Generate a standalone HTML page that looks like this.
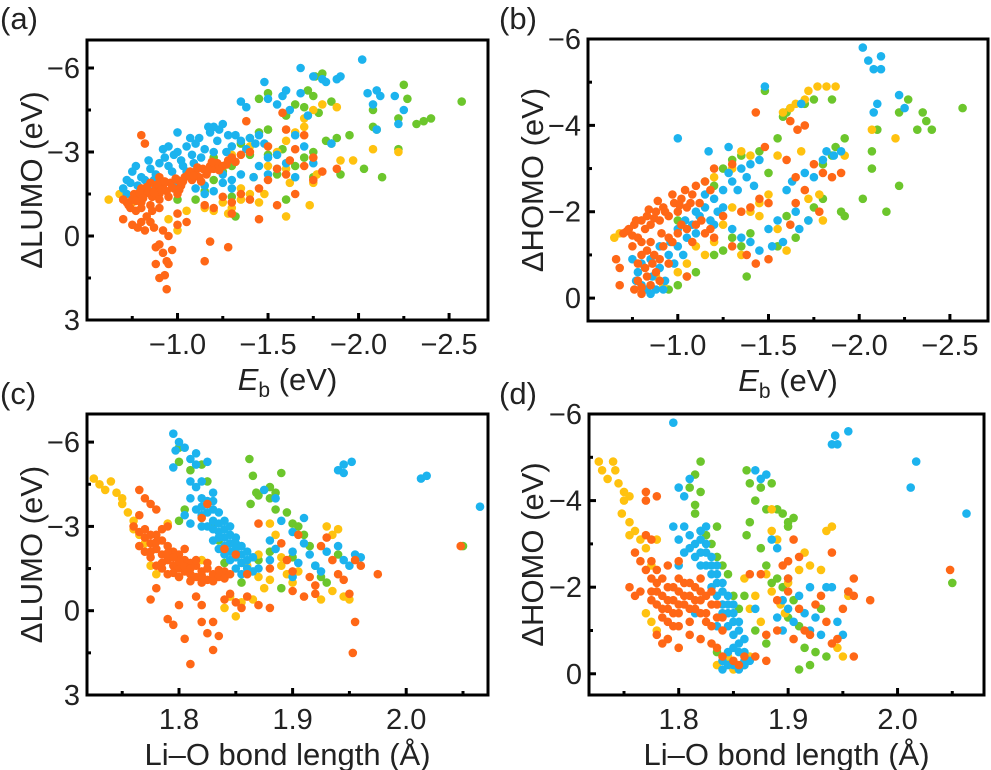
<!DOCTYPE html>
<html><head><meta charset="utf-8">
<style>
html,body{margin:0;padding:0;background:#fff;}
svg{display:block;font-family:"Liberation Sans",Arial,sans-serif;}
</style></head>
<body>
<svg id="fig" width="991" height="770" viewBox="0 0 991 770"></svg>
<script>
// ---------- data (x, y) per panel per series ----------
const aOrange=[[-0.72,-1.2],[-0.75,-1.3],[-0.78,-1.4],[-0.8,-1.2],[-0.82,-1.5],[-0.84,-1.6],[-0.86,-1.4],[-0.88,-1.7],[-0.9,-1.5],[-0.92,-1.8],[-0.94,-1.6],[-0.96,-1.9],[-0.98,-1.7],[-1.0,-2.0],[-1.02,-1.8],[-1.04,-2.1],[-1.06,-2.2],[-1.08,-2.0],[-1.1,-2.3],[-1.12,-2.1],[-1.14,-2.4],[-1.16,-2.2],[-1.18,-2.5],[-1.2,-2.4],[-1.22,-2.6],[-1.25,-2.5],[-1.28,-2.7],[-1.3,-2.8],[-1.35,-2.9],[-1.4,-3.0],[-0.8,-1.0],[-0.85,-1.1],[-0.9,-1.3],[-0.95,-1.4],[-1.0,-1.5],[-0.85,-1.9],[-0.9,-2.1],[-0.8,-1.7],[-0.76,-1.5],[-0.7,-1.3],[-0.7,-0.6],[-0.75,-0.4],[-0.78,-0.3],[-0.82,-0.2],[-0.85,-0.5],[-0.88,0.4],[-0.9,0.3],[-0.92,0.6],[-0.94,0.9],[-0.95,1.0],[-0.97,0.5],[-0.88,1.0],[-0.9,1.5],[-0.93,1.4],[-0.94,1.9],[-0.95,0.0],[-1.0,-0.4],[-1.05,-0.5],[-1.0,-0.8],[-0.8,-3.6],[-0.82,-3.3],[-1.15,0.9],[-1.18,0.2],[-1.28,0.4],[-1.2,-1.0],[-1.3,-1.2],[-1.35,-1.5],[-1.4,-1.3],[-1.45,-1.7],[-1.5,-2.0],[-1.55,-2.4],[-1.6,-2.2],[-1.62,-2.7],[-1.7,-2.5],[-1.75,-2.8],[-1.8,-2.3],[-1.88,-2.4],[-1.65,-3.1],[-1.6,-3.8],[-1.58,-4.4],[-1.7,-3.6],[-1.65,-1.5],[-1.55,-1.1],[-1.45,-0.6],[-1.3,-0.8],[-1.15,-1.1],[-1.5,-3.2],[-1.38,-4.1],[-1.25,-1.4],[-1.75,-2.0],
[-0.73,-1.1],[-0.77,-1.25],[-0.79,-1.55],[-0.81,-1.35],[-0.83,-1.75],[-0.87,-1.55],[-0.89,-1.85],[-0.91,-1.65],[-0.93,-1.95],[-0.97,-1.75],[-0.99,-2.05],[-1.01,-1.65],[-1.03,-1.95],[-1.07,-2.3],[-1.09,-2.15],[-1.11,-2.45],[-1.13,-1.95],[-1.17,-2.35],[-1.19,-2.65],[-1.23,-2.35],[-1.27,-2.55],[-1.32,-2.65],[-0.86,-0.9],[-0.83,-0.7],[-0.87,-0.3],[-0.8,-0.5],[-0.92,-0.2],[-0.77,-0.9],[-0.74,-1.0],[-0.9,-1.0]];
const aBlue=[[-0.7,-1.7],[-0.72,-2.0],[-0.75,-2.3],[-0.78,-1.8],[-0.8,-2.1],[-0.85,-2.4],[-0.88,-2.2],[-0.9,-2.6],[-0.95,-2.5],[-0.98,-2.9],[-1.0,-3.0],[-1.02,-2.7],[-1.05,-3.2],[-1.08,-2.9],[-1.1,-3.3],[-1.12,-3.5],[-1.15,-3.1],[-1.18,-3.7],[-1.2,-3.9],[-1.22,-3.4],[-1.25,-4.0],[-1.28,-3.6],[-1.3,-3.2],[-1.35,-3.4],[-1.4,-3.5],[-1.45,-3.6],[-1.48,-3.3],[-1.0,-3.7],[-0.92,-3.1],[-1.05,-2.3],[-1.1,-1.7],[-1.15,-1.5],[-1.2,-1.6],[-1.25,-1.9],[-1.3,-1.7],[-1.35,-2.2],[-1.42,-2.1],[-1.45,-2.5],[-1.5,-2.8],[-1.55,-2.4],[-1.6,-2.6],[-1.65,-2.1],[-1.7,-3.2],[-1.75,-2.6],[-1.35,-4.8],[-1.38,-4.6],[-1.48,-5.5],[-1.5,-4.9],[-1.55,-4.7],[-1.58,-5.0],[-1.6,-5.2],[-1.62,-4.5],[-1.68,-5.1],[-1.72,-4.3],[-1.68,-6.0],[-1.75,-5.7],[-1.8,-5.6],[-1.82,-5.5],[-1.88,-5.6],[-1.9,-5.7],[-2.02,-6.3],[-2.05,-5.1],[-2.08,-4.7],[-2.1,-5.2],[-2.12,-5.0],[-2.1,-3.8],[-2.22,-4.0],[-2.25,-4.5],[-2.2,-5.0],[-1.85,-3.3],[-1.65,-3.6],[-0.85,-1.6],[-1.0,-1.9],
[-0.72,-1.5],[-0.74,-1.9],[-0.77,-2.5],[-0.82,-2.0],[-0.84,-2.7],[-0.87,-2.0],[-0.93,-2.8],[-0.97,-2.3],[-1.03,-2.5],[-1.07,-3.5],[-1.09,-2.6],[-1.13,-2.8],[-1.17,-3.9],[-1.2,-3.0],[-1.23,-3.8],[-1.27,-3.0],[-1.32,-3.6],[-1.38,-3.1],[-1.43,-3.3],[-1.25,-2.2],[-1.3,-2.0],[-1.15,-1.8],[-1.5,-2.2],[-1.55,-2.9],[-0.95,-3.2]];
const aGreen=[[-1.1,-1.3],[-1.15,-1.6],[-1.2,-2.0],[-1.25,-2.3],[-1.3,-2.5],[-1.35,-3.3],[-1.4,-3.5],[-1.45,-3.7],[-1.5,-3.8],[-1.5,-5.1],[-1.45,-4.9],[-1.58,-3.1],[-1.6,-4.3],[-1.65,-4.7],[-1.7,-4.6],[-1.72,-5.2],[-1.75,-5.0],[-1.8,-5.8],[-1.76,-5.7],[-1.85,-4.8],[-1.78,-4.4],[-1.82,-3.4],[-1.85,-3.3],[-1.88,-3.5],[-1.95,-3.6],[-1.9,-2.2],[-1.75,-3.0],[-1.7,-2.8],[-1.75,-2.1],[-1.65,-2.5],[-1.6,-1.3],[-1.55,-2.2],[-1.32,-0.7],[-2.08,-4.5],[-2.08,-3.9],[-2.1,-3.8],[-2.03,-2.4],[-2.13,-2.1],[-2.22,-3.1],[-2.25,-5.4],[-2.27,-4.9],[-2.22,-4.2],[-2.32,-4.0],[-2.36,-4.1],[-2.4,-4.2],[-2.57,-4.8],[-1.0,-1.3],[-1.2,-2.8],[-1.5,-2.9],[-1.3,-1.4],[-1.4,-2.9]];
const aYellow=[[-0.62,-1.3],[-0.68,-1.5],[-0.75,-1.2],[-0.85,-0.5],[-0.95,-0.6],[-1.05,-0.9],[-1.15,-1.0],[-1.2,-0.9],[-1.25,-1.2],[-1.3,-1.0],[-1.35,-1.3],[-1.4,-1.5],[-1.42,-2.1],[-1.5,-2.5],[-1.55,-3.0],[-1.6,-3.4],[-1.65,-3.7],[-1.7,-4.2],[-1.75,-4.5],[-1.8,-4.7],[-1.88,-4.6],[-1.7,-3.9],[-1.62,-1.9],[-1.75,-1.9],[-1.77,-2.2],[-1.73,-1.1],[-1.6,-0.7],[-1.9,-2.7],[-1.97,-2.7],[-2.08,-3.1],[-2.22,-3.0],[-1.48,-1.5],[-1.3,-2.9],[-1.4,-3.2],[-1.35,-1.7],[-1.0,-0.2],[-1.6,-2.4],[-1.28,-0.8],[-1.45,-1.2]];

const bOrange=[[-0.7,-1.5],[-0.73,-1.6],[-0.76,-1.7],[-0.78,-1.4],[-0.8,-1.8],[-0.83,-1.9],[-0.85,-1.7],[-0.88,-2.0],[-0.9,-1.8],[-0.92,-2.1],[-0.95,-1.9],[-0.98,-2.2],[-1.0,-2.0],[-1.02,-2.3],[-1.05,-2.1],[-1.08,-2.4],[-1.1,-2.6],[-1.12,-2.2],[-1.15,-2.7],[-1.18,-2.5],[-0.75,-1.2],[-0.8,-1.0],[-0.82,-0.7],[-0.78,-0.4],[-0.76,-0.2],[-0.8,-0.1],[-0.85,-0.3],[-0.88,-0.6],[-0.9,-0.9],[-0.92,-1.2],[-0.95,-1.4],[-1.0,-1.5],[-1.05,-1.6],[-1.08,-1.3],[-1.1,-1.7],[-1.15,-1.5],[-0.68,-0.7],[-0.66,-0.9],[-0.68,-0.3],[-0.85,-1.3],[-0.9,-0.4],[-0.95,-0.8],[-1.2,-1.4],[-1.25,-1.9],[-1.3,-1.2],[-1.35,-2.0],[-1.4,-2.1],[-1.45,-2.3],[-1.5,-2.2],[-1.48,-3.5],[-1.43,-4.3],[-1.62,-4.1],[-1.66,-3.9],[-1.7,-4.0],[-1.6,-3.2],[-1.65,-2.8],[-1.7,-2.5],[-1.75,-3.1],[-1.8,-2.9],[-1.85,-2.8],[-1.9,-2.9],[-1.78,-2.0],[-1.65,-2.2],[-1.5,-0.9],[-1.43,-0.8],[-1.05,-0.5],[-1.2,-3.0],[-1.3,-3.1],[-1.62,-1.7],[-1.38,-1.0],
[-0.72,-1.55],[-0.75,-1.45],[-0.77,-1.8],[-0.82,-1.6],[-0.84,-2.05],[-0.87,-1.85],[-0.89,-2.25],[-0.93,-2.0],[-0.97,-2.4],[-1.01,-2.15],[-1.04,-2.5],[-1.07,-2.2],[-0.8,-1.3],[-0.83,-1.1],[-0.87,-1.0],[-0.91,-1.5],[-0.97,-1.3],[-1.02,-1.7],[-0.78,-0.8],[-0.86,-0.8],[-0.83,-0.5],[-0.8,-0.25],[-1.13,-1.8],[-1.18,-1.6]];
const bBlue=[[-0.75,-0.9],[-0.78,-0.6],[-0.8,-0.3],[-0.83,-0.2],[-0.86,-0.5],[-0.88,-0.2],[-0.9,-0.7],[-0.93,-0.4],[-0.95,-1.0],[-0.98,-0.8],[-1.0,-1.2],[-1.03,-1.0],[-1.05,-1.4],[-1.08,-1.7],[-1.1,-1.5],[-1.12,-1.9],[-1.15,-2.1],[-1.18,-1.8],[-1.2,-2.3],[-1.22,-2.0],[-1.25,-2.5],[-1.3,-2.7],[-1.33,-2.5],[-1.35,-3.0],[-1.4,-3.1],[-1.45,-3.2],[-1.3,-1.6],[-1.35,-1.4],[-1.4,-1.3],[-1.45,-1.1],[-1.5,-1.6],[-1.52,-1.2],[-1.55,-1.8],[-1.6,-2.5],[-1.63,-2.7],[-1.67,-1.6],[-1.7,-2.9],[-1.72,-1.8],[-1.75,-2.8],[-1.8,-3.2],[-1.82,-3.4],[-1.86,-3.3],[-1.9,-3.4],[-1.0,-3.7],[-1.17,-3.4],[-1.28,-3.5],[-1.48,-4.9],[-1.68,-4.5],[-2.02,-5.8],[-2.05,-5.5],[-2.08,-5.3],[-2.12,-5.6],[-2.12,-5.3],[-2.1,-4.5],[-2.08,-4.3],[-2.22,-4.7],[-2.25,-4.4],[-1.58,-1.3],[-1.42,-2.6],[-1.65,-2.0],
[-0.77,-0.4],[-0.8,-0.8],[-0.85,-0.9],[-0.9,-1.2],[-0.96,-1.3],[-1.0,-1.6],[-1.04,-1.8],[-1.1,-2.0],[-1.15,-2.4],[-1.2,-1.7],[-1.25,-2.1],[-1.28,-2.9],[-1.38,-2.8],[-0.85,-0.1],[-0.92,-0.2]];
const bGreen=[[-0.95,-0.2],[-1.0,-0.3],[-1.05,-0.5],[-1.1,-0.6],[-1.2,-1.0],[-1.25,-1.1],[-1.3,-1.4],[-1.35,-1.2],[-1.38,-0.5],[-1.4,-1.5],[-1.0,-1.8],[-1.15,-2.7],[-1.2,-2.6],[-1.25,-3.0],[-1.3,-3.2],[-1.35,-3.3],[-1.45,-3.4],[-1.48,-4.8],[-1.55,-3.7],[-1.58,-4.2],[-1.6,-4.3],[-1.7,-4.5],[-1.75,-4.6],[-1.85,-4.6],[-1.8,-3.1],[-1.85,-3.3],[-1.87,-3.5],[-1.92,-3.7],[-1.72,-1.8],[-1.75,-2.1],[-1.8,-2.3],[-1.65,-1.4],[-1.55,-1.2],[-1.6,-1.9],[-1.9,-2.0],[-1.92,-1.9],[-2.02,-2.3],[-2.07,-3.0],[-2.07,-3.4],[-2.1,-3.9],[-2.15,-2.0],[-2.22,-2.6],[-2.22,-4.3],[-2.27,-4.6],[-2.32,-3.9],[-2.35,-4.3],[-2.37,-4.1],[-2.4,-3.9],[-2.57,-4.4],[-1.5,-2.9]];
const bYellow=[[-0.65,-1.4],[-0.68,-1.5],[-0.88,-0.5],[-0.92,-0.3],[-1.0,-0.6],[-1.05,-0.8],[-1.1,-1.2],[-1.15,-1.0],[-1.2,-1.3],[-1.25,-1.7],[-1.3,-2.1],[-1.35,-1.0],[-1.4,-2.0],[-1.45,-2.2],[-1.5,-2.4],[-1.55,-3.3],[-1.4,-3.3],[-1.35,-3.4],[-1.3,-3.0],[-1.2,-2.8],[-1.58,-4.3],[-1.62,-4.4],[-1.65,-4.5],[-1.7,-4.6],[-1.72,-4.8],[-1.77,-4.9],[-1.82,-4.9],[-1.87,-4.9],[-1.78,-2.4],[-1.72,-2.3],[-1.8,-1.8],[-1.6,-1.1],[-1.68,-3.4],[-1.92,-3.3],[-2.07,-3.9],[-2.2,-3.7],[-1.55,-1.6],[-1.45,-1.9]];

const cOrange=[[1.76,-3.0],[1.765,-2.8],[1.77,-2.6],[1.775,-2.4],[1.78,-2.2],[1.78,-2.7],[1.785,-2.0],[1.79,-1.8],[1.79,-2.3],[1.795,-1.6],[1.8,-1.5],[1.8,-2.0],[1.805,-1.4],[1.81,-1.3],[1.81,-1.7],[1.815,-1.2],[1.82,-1.4],[1.825,-1.1],[1.83,-1.3],[1.835,-1.2],[1.84,-1.4],[1.77,-2.1],[1.78,-1.6],[1.785,-2.5],[1.795,-2.1],[1.805,-1.8],[1.815,-1.6],[1.82,-1.0],[1.775,-1.9],[1.765,-3.4],[1.77,-4.0],[1.775,-3.8],[1.765,-4.3],[1.78,-3.6],[1.79,-3.0],[1.82,-3.3],[1.825,-3.8],[1.84,-2.2],[1.85,-2.0],[1.78,-0.8],[1.775,-0.4],[1.79,0.3],[1.795,0.5],[1.8,-0.2],[1.805,1.0],[1.81,1.9],[1.815,-0.5],[1.82,-0.2],[1.82,0.4],[1.825,0.8],[1.83,0.4],[1.83,1.4],[1.835,0.9],[1.84,-0.4],[1.845,-0.6],[1.85,-0.3],[1.855,-0.1],[1.86,-0.5],[1.87,-0.2],[1.88,-0.1],[1.9,-0.7],[1.91,-0.5],[1.92,-0.6],[1.88,-1.5],[1.89,-2.4],[1.9,-1.4],[1.905,-2.7],[1.915,-1.2],[1.925,-2.3],[1.93,-2.6],[1.935,-1.8],[1.94,-1.3],[1.945,-1.1],[1.95,-0.6],[1.955,-1.8],[1.96,-1.6],[1.975,-1.3],[1.955,0.4],[1.953,1.5],[1.87,-3.1],[1.895,-1.8],[2.048,-2.3],[1.92,-0.9],[1.86,-1.3],
[1.765,-2.3],[1.77,-2.9],[1.775,-2.1],[1.78,-2.45],[1.785,-1.7],[1.79,-2.05],[1.795,-1.35],[1.8,-1.75],[1.8,-1.2],[1.805,-1.55],[1.81,-1.05],[1.81,-1.5],[1.815,-1.8],[1.82,-1.25],[1.825,-1.5],[1.83,-1.05],[1.835,-1.45],[1.84,-1.15],[1.79,-1.3],[1.785,-1.5],[1.775,-2.7],[1.785,-2.9],[1.795,-1.9],[1.805,-2.2],[1.825,-1.7],[1.845,-1.3]];
const cBlue=[[1.795,-6.3],[1.8,-6.0],[1.797,-5.7],[1.805,-5.8],[1.81,-5.4],[1.815,-5.6],[1.815,-5.2],[1.825,-5.3],[1.795,-5.1],[1.81,-4.6],[1.815,-4.4],[1.82,-4.6],[1.82,-4.0],[1.825,-3.8],[1.83,-3.6],[1.82,-3.4],[1.825,-3.0],[1.83,-3.2],[1.835,-2.8],[1.84,-2.6],[1.84,-3.2],[1.845,-2.4],[1.85,-2.2],[1.85,-2.6],[1.855,-2.0],[1.86,-1.8],[1.83,-2.5],[1.835,-2.2],[1.84,-2.0],[1.845,-1.8],[1.85,-1.5],[1.855,-1.3],[1.81,-3.1],[1.805,-3.4],[1.825,-3.9],[1.83,-4.2],[1.835,-3.5],[1.87,-1.5],[1.88,-1.8],[1.885,-2.2],[1.9,-2.1],[1.905,-1.7],[1.91,-2.4],[1.915,-2.0],[1.92,-1.6],[1.925,-1.4],[1.93,-2.1],[1.94,-2.3],[1.945,-1.8],[1.95,-1.6],[1.955,-2.0],[1.96,-1.9],[1.89,-3.2],[1.91,-3.3],[1.9,-2.8],[1.875,-4.3],[1.885,-4.0],[1.94,-5.0],[1.945,-5.2],[1.952,-5.3],[1.945,-4.9],[2.013,-4.7],[2.018,-4.8],[2.065,-3.7],[1.88,-2.5],[1.9,-1.2],
[1.82,-3.7],[1.825,-3.5],[1.83,-2.9],[1.83,-3.9],[1.835,-3.1],[1.835,-2.6],[1.84,-2.3],[1.84,-2.9],[1.845,-2.1],[1.845,-2.7],[1.85,-1.9],[1.85,-2.4],[1.855,-1.7],[1.855,-2.3],[1.86,-2.1],[1.86,-1.5],[1.865,-1.9],[1.865,-1.4],[1.845,-3.0],[1.82,-3.0],[1.815,-3.6],[1.81,-4.0]];
const cGreen=[[1.8,-5.8],[1.8,-5.3],[1.81,-5.0],[1.82,-5.2],[1.825,-4.6],[1.8,-3.2],[1.805,-3.6],[1.83,-3.1],[1.835,-2.5],[1.84,-1.7],[1.855,-1.0],[1.862,-5.4],[1.865,-4.8],[1.868,-4.2],[1.87,-4.1],[1.863,-3.8],[1.88,-4.4],[1.88,-4.0],[1.885,-4.2],[1.885,-3.6],[1.89,-4.9],[1.895,-3.5],[1.9,-3.1],[1.905,-3.0],[1.91,-2.7],[1.915,-2.3],[1.92,-1.6],[1.925,-1.2],[1.93,-1.0],[1.9,-1.9],[1.89,-0.8],[1.88,-2.1],[1.87,-1.8],[1.94,-2.0],[2.05,-2.3],[1.85,-2.0]];
const cYellow=[[1.725,-4.7],[1.73,-4.5],[1.735,-4.3],[1.74,-4.6],[1.745,-4.2],[1.75,-4.0],[1.75,-3.8],[1.755,-3.5],[1.76,-3.2],[1.76,-2.9],[1.765,-2.7],[1.77,-2.4],[1.775,-1.6],[1.78,-1.3],[1.8,-1.2],[1.79,-3.1],[1.845,-0.5],[1.84,-0.1],[1.85,0.2],[1.855,-0.3],[1.865,-0.4],[1.87,-1.2],[1.875,-0.8],[1.88,-3.1],[1.885,-2.7],[1.89,-1.6],[1.895,-1.3],[1.9,-1.0],[1.905,-1.4],[1.89,-1.9],[1.88,-1.1],[1.93,-3.0],[1.935,-2.7],[1.94,-2.9],[1.925,-0.4],[1.935,-0.7],[1.945,-0.5],[1.95,-0.4],[1.87,-2.0],[1.86,-1.6],[1.82,-1.8]];

const dOrange=[[1.76,-2.8],[1.765,-2.6],[1.77,-2.4],[1.77,-3.2],[1.775,-2.2],[1.775,-1.9],[1.78,-2.1],[1.78,-1.6],[1.785,-1.8],[1.785,-1.3],[1.79,-2.0],[1.79,-1.5],[1.795,-1.1],[1.795,-1.7],[1.8,-1.9],[1.8,-1.4],[1.805,-2.1],[1.805,-1.6],[1.81,-1.8],[1.81,-1.2],[1.815,-2.0],[1.815,-1.5],[1.82,-1.7],[1.82,-2.2],[1.825,-1.4],[1.83,-1.6],[1.83,-1.1],[1.835,-1.3],[1.84,-1.0],[1.78,-0.9],[1.785,-0.7],[1.79,-0.8],[1.8,-0.6],[1.81,-0.9],[1.82,-0.8],[1.83,-0.7],[1.835,-0.6],[1.755,-2.0],[1.76,-1.8],[1.765,-1.9],[1.77,-4.2],[1.77,-4.0],[1.78,-4.1],[1.775,-3.1],[1.79,-2.5],[1.8,-2.6],[1.84,-0.4],[1.85,-0.3],[1.855,-0.2],[1.86,-0.4],[1.87,-0.4],[1.88,-0.3],[1.865,-2.3],[1.875,-2.3],[1.88,-0.9],[1.89,-1.7],[1.895,-2.5],[1.9,-2.6],[1.905,-3.1],[1.91,-2.7],[1.91,-1.5],[1.915,-1.0],[1.92,-0.9],[1.925,-1.6],[1.93,-1.8],[1.935,-1.2],[1.94,-0.7],[1.945,-0.8],[1.95,-1.5],[1.955,-1.9],[1.96,-0.4],[1.96,-1.8],[1.96,-2.2],[1.975,-1.7],[1.94,-2.8],[1.9,-2.2],[1.89,-1.0],[1.905,-0.8],[2.048,-2.4],[1.9,-1.9],
[1.775,-1.7],[1.78,-1.9],[1.785,-2.2],[1.785,-1.5],[1.79,-1.7],[1.795,-1.4],[1.795,-2.0],[1.8,-1.6],[1.8,-2.2],[1.805,-1.8],[1.81,-1.5],[1.81,-2.1],[1.815,-1.7],[1.82,-1.9],[1.82,-1.4],[1.825,-1.8],[1.825,-1.2],[1.83,-1.9],[1.835,-1.6],[1.79,-1.2],[1.8,-1.1],[1.84,-1.3],[1.78,-2.4],[1.775,-2.6]];
const dBlue=[[1.795,-5.8],[1.8,-4.3],[1.805,-4.1],[1.81,-4.5],[1.795,-3.4],[1.8,-3.1],[1.805,-3.4],[1.81,-3.2],[1.815,-3.0],[1.815,-2.7],[1.82,-2.8],[1.82,-3.3],[1.825,-2.5],[1.825,-3.0],[1.83,-2.3],[1.83,-2.7],[1.835,-2.1],[1.835,-2.5],[1.84,-1.9],[1.84,-1.6],[1.845,-1.8],[1.845,-1.4],[1.85,-1.2],[1.85,-1.6],[1.855,-1.0],[1.855,-0.7],[1.86,-0.5],[1.86,-0.3],[1.84,-0.3],[1.84,-0.1],[1.845,-0.5],[1.85,-0.2],[1.855,-0.1],[1.835,-1.1],[1.825,-3.4],[1.805,-2.8],[1.8,-2.5],[1.815,-1.4],[1.87,-4.7],[1.875,-4.5],[1.88,-4.6],[1.87,-1.5],[1.89,-1.3],[1.89,-2.9],[1.895,-1.0],[1.9,-1.5],[1.9,-2.2],[1.905,-1.2],[1.91,-1.8],[1.915,-1.4],[1.92,-2.0],[1.92,-1.0],[1.925,-1.3],[1.93,-0.9],[1.935,-2.0],[1.94,-2.0],[1.945,-1.2],[1.95,-0.9],[1.955,-1.9],[1.94,-5.3],[1.943,-5.5],[1.945,-5.3],[1.955,-5.6],[2.012,-4.3],[2.017,-4.9],[2.063,-3.7],[1.885,-3.1],[1.895,-1.7],
[1.82,-2.5],[1.825,-2.8],[1.83,-2.5],[1.83,-2.0],[1.835,-2.3],[1.835,-1.8],[1.84,-2.1],[1.84,-1.4],[1.845,-1.6],[1.845,-1.1],[1.85,-1.4],[1.85,-0.9],[1.855,-1.2],[1.855,-0.5],[1.86,-0.8],[1.86,-0.2],[1.865,-0.3],[1.85,-0.6],[1.845,-0.2],[1.81,-2.9],[1.82,-3.1]];
const dGreen=[[1.81,-4.3],[1.815,-4.6],[1.82,-4.9],[1.82,-4.2],[1.815,-3.9],[1.815,-3.7],[1.82,-3.3],[1.825,-3.2],[1.83,-3.0],[1.835,-3.4],[1.835,-2.7],[1.84,-2.5],[1.845,-2.3],[1.85,-1.8],[1.855,-1.5],[1.835,-0.5],[1.845,-0.3],[1.862,-4.7],[1.865,-4.4],[1.87,-4.0],[1.875,-4.3],[1.88,-3.8],[1.885,-4.4],[1.89,-3.8],[1.895,-3.7],[1.9,-3.5],[1.9,-3.4],[1.905,-3.6],[1.862,-3.2],[1.865,-3.5],[1.875,-2.9],[1.88,-2.5],[1.885,-2.1],[1.89,-2.2],[1.895,-2.0],[1.9,-1.3],[1.905,-1.7],[1.91,-1.1],[1.915,-0.6],[1.925,-0.5],[1.91,-0.1],[1.92,-0.2],[1.93,-1.5],[1.935,-0.4],[1.87,-1.0],[1.88,-0.7],[2.05,-2.1],[1.86,-1.8]];
const dYellow=[[1.727,-4.9],[1.73,-4.7],[1.735,-4.5],[1.74,-4.9],[1.742,-4.7],[1.745,-4.4],[1.75,-4.2],[1.75,-4.0],[1.755,-4.1],[1.748,-3.7],[1.755,-3.5],[1.76,-3.3],[1.765,-3.1],[1.77,-2.9],[1.755,-3.2],[1.78,-3.1],[1.775,-2.5],[1.77,-1.4],[1.775,-1.2],[1.78,-1.0],[1.79,-0.8],[1.8,-0.6],[1.835,-0.2],[1.84,-0.3],[1.845,-0.4],[1.85,-0.1],[1.86,-0.2],[1.865,-0.4],[1.86,-2.2],[1.865,-1.5],[1.875,-1.2],[1.88,-2.3],[1.885,-1.9],[1.885,-3.3],[1.89,-3.1],[1.893,-1.6],[1.897,-1.4],[1.9,-2.1],[1.91,-2.4],[1.915,-2.8],[1.92,-2.5],[1.93,-2.4],[1.935,-3.3],[1.94,-3.4],[1.945,-0.6],[1.95,-0.4],[1.955,-1.8],[1.885,-3.8],[1.87,-1.8]];

// tick labels
const ebTicks=[-1.0,-1.5,-2.0,-2.5];
const ebTickLabels=["\u22121.0","\u22121.5","\u22122.0","\u22122.5"];
const ebMinor=[-0.75,-1.25,-1.75,-2.25];
const blTicks=[1.8,1.9,2.0];
const blTickLabels=["1.8","1.9","2.0"];
const blMinor=[1.75,1.85,1.95,2.05];
const lumoTicks=[-6,-3,0,3];
const lumoTickLabels=["\u22126","\u22123","0","3"];
const lumoMinor=[-4.5,-1.5,1.5];
const homoTicks=[-6,-4,-2,0];
const homoTickLabels=["\u22126","\u22124","\u22122","0"];
const homoMinor=[-5,-3,-1];

const COL={green:"#6cc62c",yellow:"#ffc20f",blue:"#1cb3ee",orange:"#ff6716"};
const NS="http://www.w3.org/2000/svg";
const svg=document.getElementById('fig');
function mk(tag,attrs,parent){const e=document.createElementNS(NS,tag);for(const k in attrs)e.setAttribute(k,attrs[k]);(parent||svg).appendChild(e);return e;}

function panel(p){
  const g=mk('g',{});
  
  
  const sx=v=>p.L+(v-p.x0)/(p.x1-p.x0)*(p.R-p.L);
  const sy=v=>p.T+(v-p.y0)/(p.y1-p.y0)*(p.B-p.T);
  const series=[["green",p.green],["yellow",p.yellow],["blue",p.blue],["orange",p.orange]];
  for(const [c,arr] of series){
    const sg=mk('g',{fill:COL[c]},g);
    
    
    for(const d of arr){
      const ci=mk('circle',{cx:sx(d[0]).toFixed(1),cy:sy(d[1]).toFixed(1),r:4.3},sg);
      
      
    }
  }
  const fr=mk('rect',{x:p.L,y:p.T,width:p.R-p.L,height:p.B-p.T,fill:'none',stroke:'#000','stroke-width':3},g);
  
  
  p.xt.forEach((v,i)=>{
    const x=sx(v);
    mk('line',{x1:x,x2:x,y1:p.B,y2:p.B-7,stroke:'#000','stroke-width':3},g);
    const t=mk('text',{x:x,y:p.B+34,'font-size':29,'text-anchor':'middle',fill:'#222'},g);
    t.textContent=p.xl[i];
    
    
  });
  p.xm.forEach(v=>{const x=sx(v);mk('line',{x1:x,x2:x,y1:p.B,y2:p.B-4,stroke:'#000','stroke-width':3},g);});
  p.yt.forEach((v,i)=>{
    const y=sy(v);
    mk('line',{x1:p.L,x2:p.L+7,y1:y,y2:y,stroke:'#000','stroke-width':3},g);
    const t=mk('text',{x:p.L-7,y:y+10,'font-size':29,'text-anchor':'end',fill:'#222'},g);
    t.textContent=p.yl[i];
    
    
  });
  p.ym.forEach(v=>{const y=sy(v);mk('line',{x1:p.L,x2:p.L+4,y1:y,y2:y,stroke:'#000','stroke-width':3},g);});
  const yt=mk('text',{x:0,y:0,'font-size':31,'text-anchor':'middle',fill:'#222',transform:`translate(${p.ytx},${(p.T+p.B)/2}) rotate(-90)`},g);
  yt.textContent=p.ytitle;
  
  
  const xt=mk('text',{x:(p.L+p.R)/2,y:p.B+70,'font-size':31,'text-anchor':'middle',fill:'#222'},g);
  if(p.eb){
    const a=mk('tspan',{'font-style':'italic'},xt);a.textContent='E';
    const b=mk('tspan',{'font-size':21,dy:7},xt);b.textContent='b';
    const c=mk('tspan',{dy:-7},xt);c.textContent=' (eV)';
  } else xt.textContent='Li\u2013O bond length (\u00c5)';
  
  
  const pl=mk('text',{x:p.plx,y:p.ply,'font-size':31,fill:'#222'},g);
  pl.textContent=p.label;
  
  
}

panel({name:'panel-a',L:87,R:488,T:40,B:320,x0:-0.5,x1:-2.715,y0:-7,y1:3,
  green:aGreen,yellow:aYellow,blue:aBlue,orange:aOrange,
  xt:ebTicks,xl:ebTickLabels,xm:ebMinor,yt:lumoTicks,yl:lumoTickLabels,ym:lumoMinor,
  ytitle:'\u0394LUMO (eV)',ytx:42,eb:true,label:'(a)',plx:0,ply:29});
panel({name:'panel-b',L:588,R:988,T:39,B:321,x0:-0.505,x1:-2.71,y0:-6,y1:0.53,
  green:bGreen,yellow:bYellow,blue:bBlue,orange:bOrange,
  xt:ebTicks,xl:ebTickLabels,xm:ebMinor,yt:homoTicks,yl:homoTickLabels,ym:homoMinor,
  ytitle:'\u0394HOMO (eV)',ytx:543,eb:true,label:'(b)',plx:499,ply:29});
panel({name:'panel-c',L:87,R:488,T:414,B:695,x0:1.719,x1:2.072,y0:-7,y1:3,
  green:cGreen,yellow:cYellow,blue:cBlue,orange:cOrange,
  xt:blTicks,xl:blTickLabels,xm:blMinor,yt:lumoTicks,yl:lumoTickLabels,ym:lumoMinor,
  ytitle:'\u0394LUMO (eV)',ytx:42,eb:false,label:'(c)',plx:0,ply:404});
panel({name:'panel-d',L:589,R:984,T:414,B:695,x0:1.718,x1:2.079,y0:-6,y1:0.49,
  green:dGreen,yellow:dYellow,blue:dBlue,orange:dOrange,
  xt:blTicks,xl:blTickLabels,xm:blMinor,yt:homoTicks,yl:homoTickLabels,ym:homoMinor,
  ytitle:'\u0394HOMO (eV)',ytx:543,eb:false,label:'(d)',plx:499,ply:404});
</script>
</body></html>
